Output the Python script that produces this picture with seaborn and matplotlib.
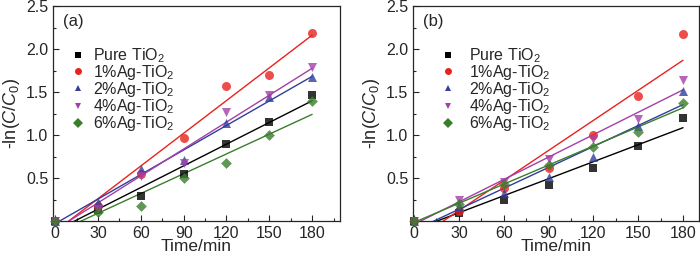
import numpy as np
import pandas as pd
import matplotlib
matplotlib.use("Agg")
import matplotlib.pyplot as plt
from matplotlib.lines import Line2D
from matplotlib.ticker import MultipleLocator, FixedLocator
import seaborn as sns

# data
time_min = [0, 30, 60, 90, 120, 150, 180]
labels = ["Pure TiO$_2$", "1%Ag-TiO$_2$", "2%Ag-TiO$_2$", "4%Ag-TiO$_2$", "6%Ag-TiO$_2$"]

# panel (a)
a_pure = [0, 0.13, 0.29, 0.55, 0.90, 1.15, 1.47]
a_ag1 = [0, 0.17, 0.55, 0.96, 1.57, 1.70, 2.19]
a_ag2 = [0, 0.22, 0.60, 0.71, 1.14, 1.44, 1.67]
a_ag4 = [0, 0.14, 0.52, 0.68, 1.27, 1.46, 1.79]
a_ag6 = [0, 0.11, 0.18, 0.50, 0.67, 1.00, 1.39]

# panel (b)
b_pure = [0, 0.09, 0.24, 0.42, 0.62, 0.87, 1.20]
b_ag1 = [0, 0.12, 0.38, 0.62, 1.00, 1.45, 2.17]
b_ag2 = [0, 0.17, 0.32, 0.51, 0.75, 1.10, 1.51]
b_ag4 = [0, 0.25, 0.45, 0.72, 0.95, 1.19, 1.64]
b_ag6 = [0, 0.20, 0.43, 0.65, 0.86, 1.04, 1.37]

colors = ["#000000", "#e8231e", "#2f3f9a", "#a43fa8", "#3a7d2c"]
markers = ["s", "o", "^", "v", "D"]
msizes = [30, 42, 42, 42, 30]

sns.set_style("ticks")
plt.rcParams['font.family'] = ['Liberation Sans', 'DejaVu Sans']
plt.rcParams['mathtext.fontset'] = 'custom'
plt.rcParams['mathtext.rm'] = 'Liberation Sans'
plt.rcParams['mathtext.it'] = 'Liberation Sans:italic'
plt.rcParams['mathtext.sf'] = 'Liberation Sans'

fig = plt.figure(figsize=(7.0, 2.56), dpi=100)
ax_a = fig.add_axes([53 / 700, 35 / 256, 287 / 700, 215 / 256])
ax_b = fig.add_axes([413 / 700, 35 / 256, 286 / 700, 215 / 256])

# axes, series, tag, xlim, legend x, text pad
panels = [
    (ax_a, [a_pure, a_ag1, a_ag2, a_ag4, a_ag6], "(a)", (-1.5, 199.5), 0.03, 0.55),
    (ax_b, [b_pure, b_ag1, b_ag2, b_ag4, b_ag6], "(b)", (-0.7, 190.7), 0.065, 0.95),
]

for ax, series, tag, xl, legx, tpad in panels:
    for vals, c, m, s in zip(series, colors, markers, msizes):
        df = pd.DataFrame({"t": time_min, "y": vals})
        sns.regplot(data=df, x="t", y="y", ax=ax, ci=None, color=c, marker=m,
                    scatter_kws={"s": s, "clip_on": False, "zorder": 3, "linewidths": 0},
                    line_kws={"lw": 1.0, "zorder": 2})
    ax.set_xlim(*xl)
    ax.set_ylim(0, 2.5)
    ax.xaxis.set_major_locator(FixedLocator(time_min))
    ax.xaxis.set_minor_locator(MultipleLocator(15))
    ax.yaxis.set_major_locator(FixedLocator([0.5, 1.0, 1.5, 2.0, 2.5]))
    ax.yaxis.set_minor_locator(MultipleLocator(0.25))
    ax.tick_params(which="both", direction="in", labelsize=11.5, width=0.8)
    ax.tick_params(which="major", length=4)
    ax.tick_params(which="minor", length=2.5)
    for sp in ax.spines.values():
        sp.set_linewidth(0.9)
    ax.set_xlabel("Time/min", fontsize=12.5, labelpad=-1)
    ax.set_ylabel("-ln($C$/$C_0$)", fontsize=13, labelpad=3)
    ax.text(0.035, 0.965, tag, transform=ax.transAxes, ha="left", va="top", fontsize=12)
    handles = [Line2D([], [], ls="", marker=m, color=c, markersize=5, markeredgewidth=0)
               for c, m in zip(colors, markers)]
    ax.legend(handles, labels, loc="upper left", bbox_to_anchor=(legx, 0.865),
              frameon=False, fontsize=11.5, handlelength=0.7, handletextpad=tpad,
              labelspacing=-0.12, borderpad=0.2)

fig.savefig("out.png", dpi=100)
